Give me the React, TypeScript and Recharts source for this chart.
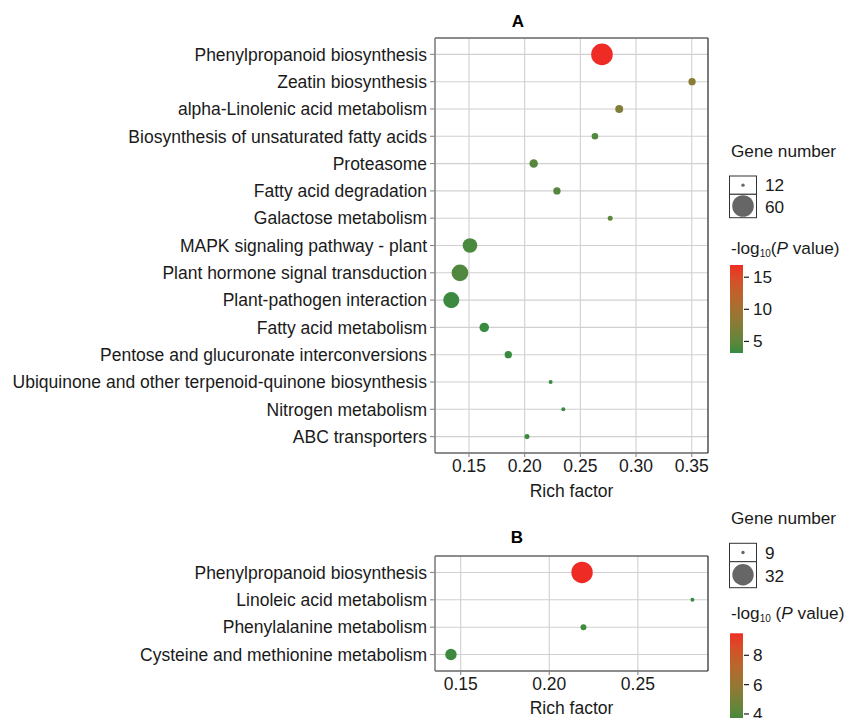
import React from "react";
import {
  ScatterChart,
  Scatter,
  XAxis,
  YAxis,
  ZAxis,
  CartesianGrid,
  Cell,
  ReferenceLine,
} from "recharts";

// ---------- Panel A data ----------
const categoriesA = [
  "Phenylpropanoid biosynthesis",
  "Zeatin biosynthesis",
  "alpha-Linolenic acid metabolism",
  "Biosynthesis of unsaturated fatty acids",
  "Proteasome",
  "Fatty acid degradation",
  "Galactose metabolism",
  "MAPK signaling pathway - plant",
  "Plant hormone signal transduction",
  "Plant-pathogen interaction",
  "Fatty acid metabolism",
  "Pentose and glucuronate interconversions",
  "Ubiquinone and other terpenoid-quinone biosynthesis",
  "Nitrogen metabolism",
  "ABC transporters",
];
const richA = [0.2694, 0.3503, 0.2849, 0.2631, 0.2081, 0.229, 0.2768, 0.1509, 0.1419, 0.1341, 0.1637, 0.1853, 0.2233, 0.2347, 0.2021];
const genesA = [60, 16, 17, 15, 18, 16, 13, 33, 40, 38, 20, 16, 12, 12, 13];
const pA = [16.9, 7.9, 7.2, 4.3, 4.6, 4.5, 4.8, 4.0, 4.2, 3.4, 3.3, 3.3, 3.2, 3.2, 3.3];
const xTicksA = [0.15, 0.2, 0.25, 0.3, 0.35];
const xDomainA: [number, number] = [0.1195, 0.3646];
const geneLegendA = [12, 60];
const colorTicksA = [5, 10, 15];

// ---------- Panel B data ----------
const categoriesB = [
  "Phenylpropanoid biosynthesis",
  "Linoleic acid metabolism",
  "Phenylalanine metabolism",
  "Cysteine and methionine metabolism",
];
const richB = [0.2185, 0.2808, 0.2193, 0.1445];
const genesB = [32, 9, 10, 15];
const pB = [9.5, 3.5, 3.7, 3.6];
const xTicksB = [0.15, 0.2, 0.25];
const xDomainB: [number, number] = [0.1355, 0.2896];
const geneLegendB = [9, 32];
const colorTicksB = [4, 6, 8];

// ---------- styling ----------
const FONT = "'Liberation Sans', Arial, Helvetica, sans-serif";
const AX_FS = 17.5;
const LOW = "#368B40";
const HIGH = "#EE2C25";
const R_MIN = 2;
const R_MAX_A = 10.8;
const R_MAX_B = 10.7;

// ---------- colour helpers (Lab interpolation) ----------
const toLin = (c: number) => {
  c /= 255;
  return c <= 0.04045 ? c / 12.92 : Math.pow((c + 0.055) / 1.055, 2.4);
};
const fromLin = (c: number) => {
  const v = c <= 0.0031308 ? 12.92 * c : 1.055 * Math.pow(c, 1 / 2.4) - 0.055;
  return Math.round(Math.max(0, Math.min(1, v)) * 255);
};
const Xn = 0.95047, Yn = 1, Zn = 1.08883;
const f = (t: number) => (t > 0.008856 ? Math.cbrt(t) : 7.787 * t + 16 / 116);
const finv = (t: number) => (t * t * t > 0.008856 ? t * t * t : (t - 16 / 116) / 7.787);
function hexToLab(h: string) {
  const r = toLin(parseInt(h.slice(1, 3), 16));
  const g = toLin(parseInt(h.slice(3, 5), 16));
  const b = toLin(parseInt(h.slice(5, 7), 16));
  const X = 0.4124 * r + 0.3576 * g + 0.1805 * b;
  const Y = 0.2126 * r + 0.7152 * g + 0.0722 * b;
  const Z = 0.0193 * r + 0.1192 * g + 0.9505 * b;
  const fx = f(X / Xn), fy = f(Y / Yn), fz = f(Z / Zn);
  return [116 * fy - 16, 500 * (fx - fy), 200 * (fy - fz)];
}
function labToHex(L: number, a: number, bb: number) {
  const fy = (L + 16) / 116;
  const fx = fy + a / 500;
  const fz = fy - bb / 200;
  const X = Xn * finv(fx), Y = Yn * finv(fy), Z = Zn * finv(fz);
  const r = 3.2406 * X - 1.5372 * Y - 0.4986 * Z;
  const g = -0.9689 * X + 1.8758 * Y + 0.0415 * Z;
  const b = 0.0557 * X - 0.204 * Y + 1.057 * Z;
  const hx = (v: number) => fromLin(v).toString(16).padStart(2, "0");
  return "#" + hx(r) + hx(g) + hx(b);
}
const labLow = hexToLab(LOW);
const labHigh = hexToLab(HIGH);
const mix = (t: number) => {
  const u = Math.max(0, Math.min(1, t));
  return labToHex(
    labLow[0] + (labHigh[0] - labLow[0]) * u,
    labLow[1] + (labHigh[1] - labLow[1]) * u,
    labLow[2] + (labHigh[2] - labLow[2]) * u
  );
};

const buildData = (cats: string[], rich: number[], genes: number[], p: number[]) =>
  cats.map((name, i) => ({ name, y: cats.length - i, rich: rich[i], genes: genes[i], p: p[i] }));

const dataA = buildData(categoriesA, richA, genesA, pA);
const dataB = buildData(categoriesB, richB, genesB, pB);

const range = (arr: number[]) => [Math.min(...arr), Math.max(...arr)] as [number, number];
const pRangeA = range(pA);
const pRangeB = range(pB);
const gRangeA = range(genesA);
const gRangeB = range(genesB);

const areaRange = (rmax: number): [number, number] => [Math.PI * R_MIN * R_MIN, Math.PI * rmax * rmax];
const radiusFor = (v: number, dom: [number, number], rmax: number) => {
  const [a0, a1] = areaRange(rmax);
  const t = (v - dom[0]) / (dom[1] - dom[0]);
  return Math.sqrt((a0 + (a1 - a0) * t) / Math.PI);
};

const colorFor = (v: number, dom: [number, number]) => mix((v - dom[0]) / (dom[1] - dom[0]));

interface PanelProps {
  data: ReturnType<typeof buildData>;
  cats: string[];
  xDomain: [number, number];
  xTicks: number[];
  gRange: [number, number];
  pRange: [number, number];
  rmax: number;
  height: number;
  top: number;
  labelOffset: number;
}

function Panel({ data, cats, xDomain, xTicks, gRange, pRange, rmax, height, top, labelOffset }: PanelProps) {
  const n = cats.length;
  const yTicks = cats.map((_, i) => i + 1);
  return (
    <ScatterChart
      width={846}
      height={height}
      margin={{ top, right: 138, bottom: 0, left: 0 }}
      style={{ fontFamily: FONT }}
    >
      <CartesianGrid stroke="#d0d0d0" strokeWidth={1.1} />
      <XAxis
        type="number"
        dataKey="rich"
        domain={xDomain}
        ticks={xTicks}
        allowDataOverflow
        height={47}
        tickSize={4}
        tickMargin={3}
        interval={0}
        tickFormatter={(v: number) => v.toFixed(2)}
        tick={{ fill: "#1a1a1a", fontSize: AX_FS, fontFamily: FONT }}
        axisLine={{ stroke: "#333", strokeWidth: 1.2 }}
        tickLine={{ stroke: "#888", strokeWidth: 1.1 }}
        label={{
          value: "Rich factor",
          position: "insideBottom",
          offset: labelOffset,
          fill: "#1a1a1a",
          fontSize: AX_FS,
          fontFamily: FONT,
        }}
      />
      <YAxis
        type="number"
        dataKey="y"
        domain={[0.4, n + 0.6]}
        ticks={yTicks}
        allowDataOverflow
        interval={0}
        width={435}
        tickSize={5}
        tickMargin={3}
        tickFormatter={(v: number) => cats[n - v] ?? ""}
        tick={{ fill: "#1a1a1a", fontSize: AX_FS, fontFamily: FONT }}
        axisLine={{ stroke: "#7a7a7a", strokeWidth: 1.4 }}
        tickLine={{ stroke: "#888", strokeWidth: 1.1 }}
      />
      <ZAxis type="number" dataKey="genes" domain={gRange} range={areaRange(rmax)} />
      <ReferenceLine y={n + 0.6} stroke="#333" strokeWidth={1.2} />
      <ReferenceLine x={xDomain[1]} stroke="#333" strokeWidth={1.2} />
      <Scatter data={data} isAnimationActive={false}>
        {data.map((d, i) => (
          <Cell key={i} fill={colorFor(d.p, pRange)} />
        ))}
      </Scatter>
    </ScatterChart>
  );
}

interface LegendProps {
  idPrefix: string;
  titleY: number;
  boxTop: number;
  boxMid: number;
  boxBottom: number;
  genes: number[];
  gRange: [number, number];
  rmax: number;
  colorTitleY: number;
  colorTitleSpace: boolean;
  barTop: number;
  barHeight: number;
  pRange: [number, number];
  cTicks: number[];
}

function Legend(props: LegendProps) {
  const { idPrefix, titleY, boxTop, boxMid, boxBottom, genes, gRange, rmax, colorTitleY, colorTitleSpace, barTop, barHeight, pRange, cTicks } = props;
  const bx = 729.5, bw = 27;
  const cx = bx + bw / 2;
  const stops = Array.from({ length: 21 }, (_, i) => i / 20);
  const barX = 730, barW = 13;
  const yOf = (v: number) => barTop + barHeight - ((v - pRange[0]) / (pRange[1] - pRange[0])) * barHeight;
  return (
    <g fontFamily={FONT} fill="#1a1a1a">
      <defs>
        <linearGradient id={idPrefix + "grad"} x1="0" y1="1" x2="0" y2="0">
          {stops.map((s) => (
            <stop key={s} offset={s} stopColor={mix(s)} />
          ))}
        </linearGradient>
      </defs>
      <text x={731} y={titleY} fontSize={17.2} dominantBaseline="central">Gene number</text>
      <rect x={bx} y={boxTop} width={bw} height={boxMid - boxTop} fill="#fff" stroke="#333" strokeWidth={1} />
      <rect x={bx} y={boxMid} width={bw} height={boxBottom - boxMid} fill="#fff" stroke="#333" strokeWidth={1} />
      <circle cx={cx} cy={(boxTop + boxMid) / 2} r={radiusFor(genes[0], gRange, rmax) * 0.85} fill="#666" />
      <circle cx={cx} cy={(boxMid + boxBottom) / 2} r={radiusFor(genes[1], gRange, rmax)} fill="#666" />
      <text x={765} y={(boxTop + boxMid) / 2} fontSize={17.2} dominantBaseline="central">{genes[0]}</text>
      <text x={765} y={(boxMid + boxBottom) / 2 + 1} fontSize={17.2} dominantBaseline="central">{genes[1]}</text>
      <text x={731} y={colorTitleY} fontSize={17.2} dominantBaseline="central">
        -log
        <tspan fontSize={10} dy={5}>10</tspan>
        <tspan dy={-5}>{colorTitleSpace ? " (" : "("}</tspan>
        <tspan fontStyle="italic">P</tspan>
        <tspan> value)</tspan>
      </text>
      <rect x={barX} y={barTop} width={barW} height={barHeight} fill={`url(#${idPrefix}grad)`} />
      {cTicks.map((t) => (
        <g key={t}>
          <line x1={barX + barW + 1} x2={barX + barW + 6} y1={yOf(t)} y2={yOf(t)} stroke="#1a1a1a" strokeWidth={1.2} />
          <text x={753} y={yOf(t)} fontSize={17.2} dominantBaseline="central">{t}</text>
        </g>
      ))}
    </g>
  );
}

export default function App() {
  return (
    <div style={{ position: "absolute", left: 0, top: 0, width: 846, height: 718, background: "#fff", fontFamily: FONT, overflow: "hidden" }}>
      <div style={{ position: "absolute", left: 0, top: 0 }}>
        <Panel data={dataA} cats={categoriesA} xDomain={xDomainA} xTicks={xTicksA} gRange={gRangeA} pRange={pRangeA} rmax={R_MAX_A} height={500} top={38} labelOffset={3} />
      </div>
      <div style={{ position: "absolute", left: 0, top: 500 }}>
        <Panel data={dataB} cats={categoriesB} xDomain={xDomainB} xTicks={xTicksB} gRange={gRangeB} pRange={pRangeB} rmax={R_MAX_B} height={218} top={56} labelOffset={4} />
      </div>
      <svg width={846} height={718} style={{ position: "absolute", left: 0, top: 0, pointerEvents: "none" }}>
        <text x={518} y={21} textAnchor="middle" dominantBaseline="central" fontFamily={FONT} fontWeight="bold" fontSize={17}>A</text>
        <text x={517} y={537.5} textAnchor="middle" dominantBaseline="central" fontFamily={FONT} fontWeight="bold" fontSize={17}>B</text>
        <Legend
          idPrefix="a"
          titleY={151}
          boxTop={176}
          boxMid={194.3}
          boxBottom={217.7}
          genes={geneLegendA}
          gRange={gRangeA}
          rmax={R_MAX_A}
          colorTitleY={248}
          colorTitleSpace={false}
          barTop={265}
          barHeight={88}
          pRange={pRangeA}
          cTicks={colorTicksA}
        />
        <Legend
          idPrefix="b"
          titleY={518}
          boxTop={543.3}
          boxMid={561.7}
          boxBottom={587.7}
          genes={geneLegendB}
          gRange={gRangeB}
          rmax={R_MAX_B}
          colorTitleY={613}
          colorTitleSpace={true}
          barTop={633.3}
          barHeight={88}
          pRange={pRangeB}
          cTicks={colorTicksB}
        />
      </svg>
    </div>
  );
}
